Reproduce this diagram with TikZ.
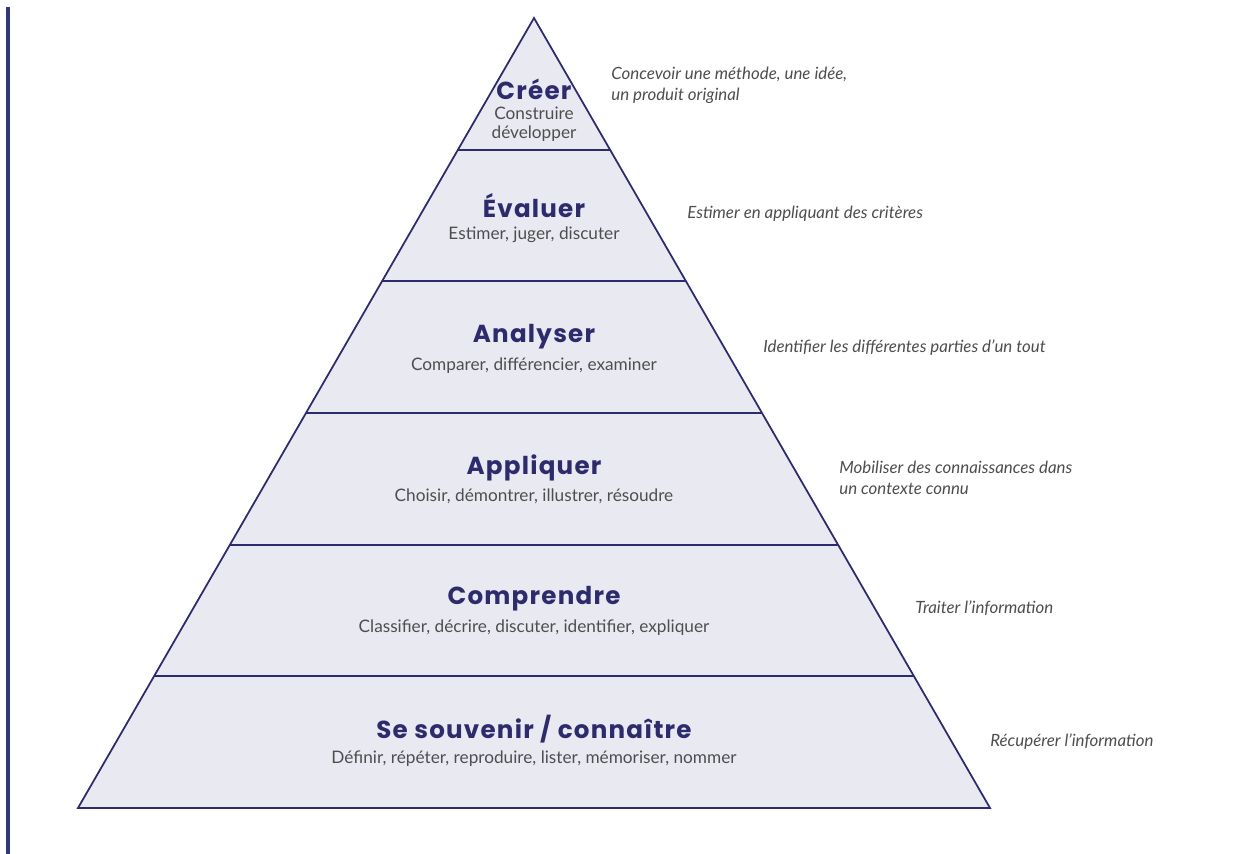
\documentclass[tikz,border=0pt]{standalone}
\usepackage{fontspec}
\setmainfont{Lato}
\newfontfamily\headfont{Poppins}[LetterSpace=5]
\usetikzlibrary{calc}
\definecolor{navy}{HTML}{2D2B6C}
\definecolor{barblue}{HTML}{2F3A75}
\definecolor{paleblue}{HTML}{E9E9F2}
\definecolor{txtgray}{HTML}{4E4E4E}

\begin{document}
\begin{tikzpicture}[x=0.02cm,y=-0.02cm,
  level/.style={align=center,text=txtgray,font=\fontsize{9.8}{10.5}\selectfont,inner sep=0pt},
  head/.style={text=navy,font=\headfont\bfseries\fontsize{14}{15}\selectfont,inner sep=0pt},
  note/.style={anchor=west,align=left,text=txtgray,font=\itshape\fontsize{9.6}{12}\selectfont,inner sep=0pt}]
\useasboundingbox[fill=white] (0,0) rectangle (1252,854);
\draw[barblue,line width=1.8pt] (8,7) -- (8,854);
% pyramid
\coordinate (apex) at (534,18);
\coordinate (bl) at (78,808);
\coordinate (br) at (990,808);
\filldraw[fill=paleblue,draw=navy,line width=1pt,line join=miter] (apex) -- (br) -- (bl) -- cycle;
\foreach \i in {1,...,5}
  \draw[navy,line width=1pt] ($(apex)!\i/6!(bl)$) -- ($(apex)!\i/6!(br)$);
% levels
\node[head] (creer) at (534,89) {Créer};
\node[level] (creersub) at (534,124) {Construire\\développer};
\node[head] (evaluer) at (534,206) {Évaluer};
\node[level] (evaluersub) at (534,235) {Estimer, juger, discuter};
\node[head] (analyser) at (534,337) {Analyser};
\node[level] (analysersub) at (534,366) {Comparer, différencier, examiner};
\node[head] (appliquer) at (534,468) {Appliquer};
\node[level] (appliquersub) at (534,496) {Choisir, démontrer, illustrer, résoudre};
\node[head] (comprendre) at (534,599) {Comprendre};
\node[level] (comprendresub) at (534,628) {Classifier, décrire, discuter, identifier, expliquer};
\node[head] (souvenir) at (534,729) {Se souvenir / connaître};
\node[level] (souvenirsub) at (534,759) {Définir, répéter, reproduire, lister, mémoriser, nommer};
% notes on the right
\node[note] (n6) at (611,85) {Concevoir une méthode, une idée,\\un produit original};
\node[note] (n5) at (687,214) {Estimer en appliquant des critères};
\node[note] (n4) at (763,348) {Identifier les différentes parties d’un tout};
\node[note] (n3) at (839,478) {Mobiliser des connaissances dans\\un contexte connu};
\node[note] (n2) at (915,608) {Traiter l’information};
\node[note] (n1) at (990,742) {Récupérer l’information};
\end{tikzpicture}
\end{document}
